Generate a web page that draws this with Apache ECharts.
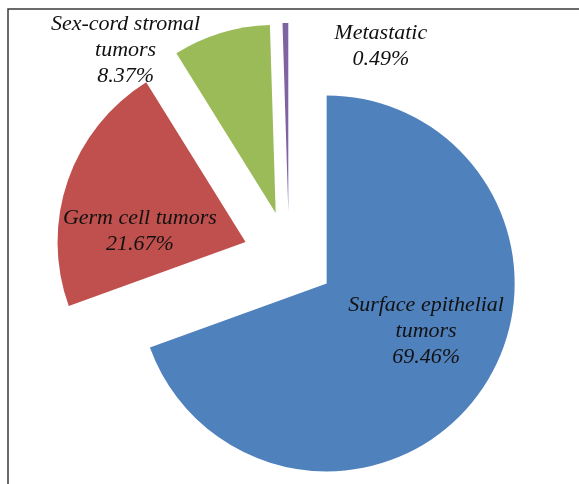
<!DOCTYPE html>
<html>
<head>
<meta charset="utf-8">
<script src="https://cdn.jsdelivr.net/npm/echarts@6/dist/echarts.min.js"></script>
<style>
html,body{margin:0;padding:0;background:#fff;}
#chart{width:579px;height:484px;}
</style>
</head>
<body>
<div id="chart"></div>
<script>
const categories = ['Surface epithelial\ntumors', 'Germ cell tumors', 'Sex-cord stromal\ntumors', 'Metastatic'];
const values = [69.46, 21.67, 8.37, 0.49];
const colors = ['#4F81BD', '#C0504D', '#9BBB59', '#8064A2'];
const labelShift = [[20, -8], [-14, 21], [-122, -70], [94, -68]];

const chart = echarts.init(document.getElementById('chart'));
chart.setOption({
  animation: false,
  graphic: [{
    type: 'rect',
    shape: { x: 8, y: 9, width: 700, height: 600 },
    style: { fill: 'none', stroke: '#3a3a3a', lineWidth: 1.5 },
    silent: true
  }],
  series: [{
    type: 'pie',
    center: [289, 257],
    radius: [0, 188],
    startAngle: 90,
    clockwise: true,
    selectedMode: 'multiple',
    selectedOffset: 46,
    avoidLabelOverlap: false,
    emphasis: { disabled: true },
    data: categories.map((c, i) => ({
      name: c, value: values[i], selected: true,
      itemStyle: { color: colors[i] }
    })),
    label: {
      show: true,
      position: 'inside',
      formatter: p => p.name + '\n' + values[p.dataIndex].toFixed(2) + '%',
      fontFamily: 'Liberation Serif',
      fontStyle: 'italic',
      fontSize: 22,
      lineHeight: 26,
      color: '#111',
      align: 'center',
      verticalAlign: 'middle'
    },
    labelLine: { show: false },
    labelLayout: p => ({ dx: labelShift[p.dataIndex][0], dy: labelShift[p.dataIndex][1] })
  }]
});
</script>
</body>
</html>
